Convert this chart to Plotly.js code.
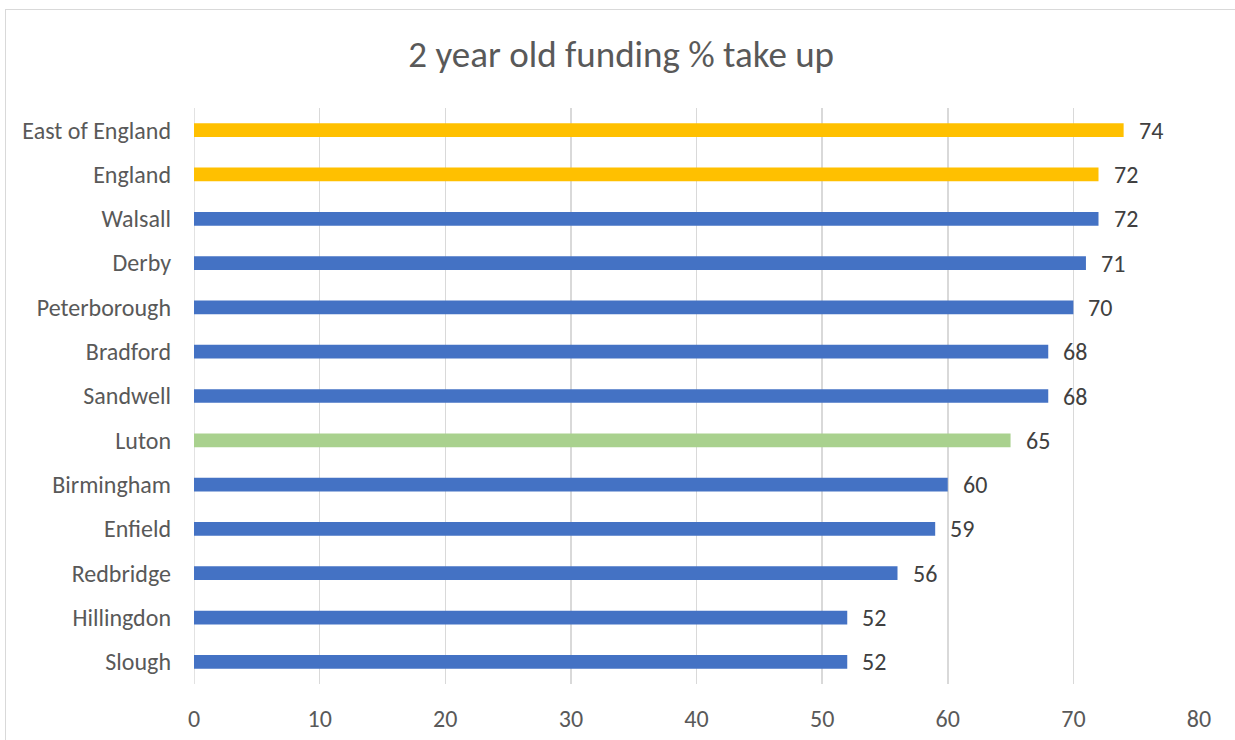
<!DOCTYPE html>
<html><head><meta charset="utf-8">
<script src="https://cdn.plot.ly/plotly-3.0.1.min.js"></script>
<style>
body{margin:0;padding:0;background:#fff;}
#wrap{position:relative;width:1235px;height:740px;overflow:hidden;}
#frame{position:absolute;left:5px;top:9px;width:1250px;height:760px;border:1.5px solid #d9d9d9;box-sizing:border-box;pointer-events:none;z-index:5;}
#chart{position:absolute;left:0;top:0;width:1235px;height:740px;}
</style></head>
<body>
<div id="wrap"><div id="chart"></div><div id="frame"></div></div>
<script>
const categories = ["East of England","England","Walsall","Derby","Peterborough","Bradford","Sandwell","Luton","Birmingham","Enfield","Redbridge","Hillingdon","Slough"];
const takeUp = [74,72,72,71,70,68,68,65,60,59,56,52,52];
const barColors = ["#FFC000","#FFC000","#4472C4","#4472C4","#4472C4","#4472C4","#4472C4","#A9D18E","#4472C4","#4472C4","#4472C4","#4472C4","#4472C4"];
const xTicks = [0,10,20,30,40,50,60,70,80];

const fontFam = "Carlito, Calibri, 'Liberation Sans', sans-serif";

const trace = {
  type: "bar",
  orientation: "h",
  y: categories,
  x: takeUp,
  marker: {color: barColors},
  hoverinfo: "none"
};

const annotations = categories.map((c, i) => ({
  x: takeUp[i], y: c, xref: "x", yref: "y",
  text: String(takeUp[i]), showarrow: false,
  xanchor: "left", xshift: 13,
  font: {family: fontFam, size: 24, color: "#404040"}
}));

const layout = {
  width: 1235, height: 740,
  margin: {l: 194, r: 36, t: 108, b: 56},
  paper_bgcolor: "#fff", plot_bgcolor: "#fff",
  bargap: 0.69,
  showlegend: false,
  title: {text: "2 year old funding % take up", x: 0.503, xanchor: "center", y: 0.927, yanchor: "middle",
          font: {family: fontFam, size: 37, color: "#595959"}},
  xaxis: {range: [0, 80], tickvals: xTicks, ticktext: xTicks.map(String),
          showgrid: true, gridcolor: "#d9d9d9", gridwidth: 1.5,
          zeroline: false, showline: false, ticks: "",
          ticklabelstandoff: 18,
          tickfont: {family: fontFam, size: 24, color: "#595959"}, fixedrange: true},
  yaxis: {autorange: "reversed", showgrid: false, zeroline: false, showline: false, ticks: "",
          ticklabelstandoff: 22,
          tickfont: {family: fontFam, size: 24, color: "#595959"}, fixedrange: true},
  shapes: [{type: "line", xref: "x", yref: "paper", x0: 0, x1: 0, y0: 0, y1: 1,
            line: {color: "#d9d9d9", width: 1.5}, layer: "below"}],
  annotations: annotations
};

Plotly.newPlot("chart", [trace], layout, {displayModeBar: false, staticPlot: true});
</script>
</body></html>
